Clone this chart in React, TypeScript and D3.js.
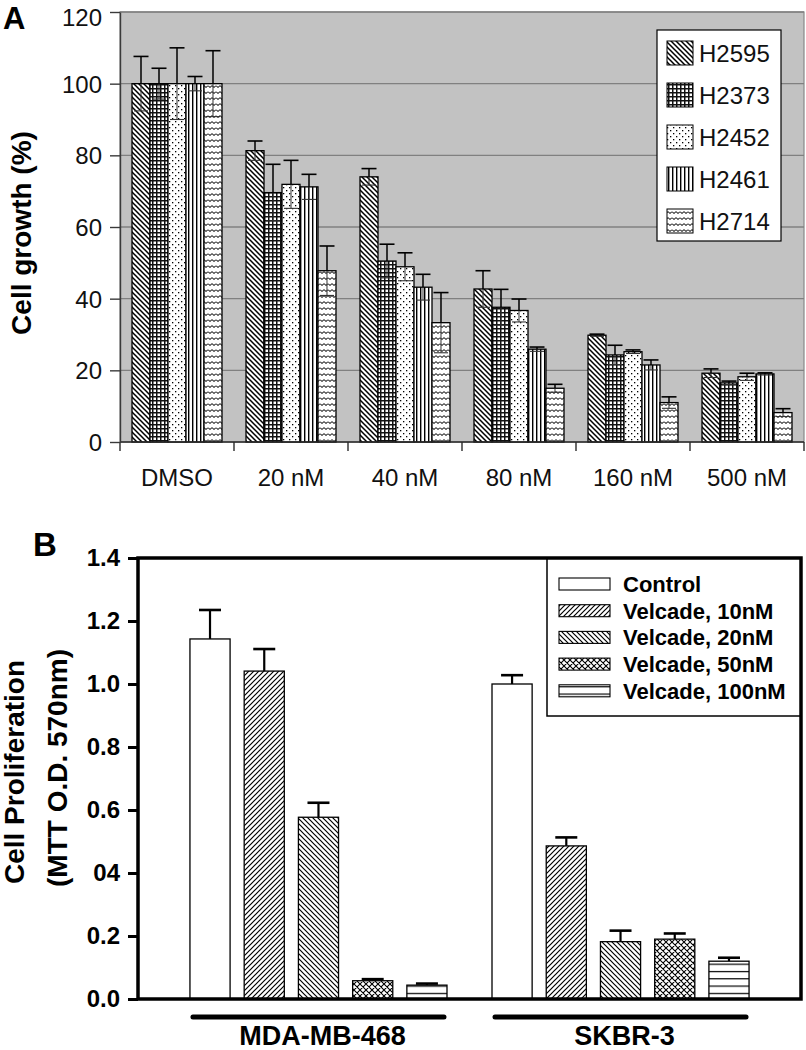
import React, { useEffect, useRef } from 'react';
import * as d3 from 'd3';

const FONT = "Arial, 'Liberation Sans', Helvetica, sans-serif";

// ---- panel A data: cell growth (%) ----
const doses = ['DMSO', '20 nM', '40 nM', '80 nM', '160 nM', '500 nM'];
const cellLines = ['H2595', 'H2373', 'H2452', 'H2461', 'H2714'];
const growthH2595 = [100, 81.3, 74, 42.7, 29.8, 19.2];
const growthH2373 = [100, 69.6, 50.5, 37.6, 24.3, 16.5];
const growthH2452 = [100, 71.9, 48.9, 36.7, 25.2, 18.2];
const growthH2461 = [100, 71.2, 43.2, 25.9, 21.5, 19];
const growthH2714 = [100, 47.8, 33.3, 15, 11, 8.2];
const errH2595 = [7.6, 2.7, 2.3, 5.1, 0.3, 1.2];
const errH2373 = [4.3, 7.9, 4.7, 5, 2.7, 0.5];
const errH2452 = [10, 6.7, 3.9, 3.2, 0.5, 1];
const errH2461 = [2, 3.5, 3.6, 0.6, 1.4, 0.3];
const errH2714 = [9.2, 6.9, 8.4, 1.1, 1.6, 1.1];
const growth = [growthH2595, growthH2373, growthH2452, growthH2461, growthH2714];
const growthErr = [errH2595, errH2373, errH2452, errH2461, errH2714];
const ticksA = [0, 20, 40, 60, 80, 100, 120];

// ---- panel B data: MTT proliferation ----
const cellsB = ['MDA-MB-468', 'SKBR-3'];
const treatments = ['Control', 'Velcade, 10nM', 'Velcade, 20nM', 'Velcade, 50nM', 'Velcade, 100nM'];
const odControl = [1.143, 1.0];
const od10 = [1.041, 0.486];
const od20 = [0.577, 0.182];
const od50 = [0.058, 0.19];
const od100 = [0.044, 0.12];
const errControl = [0.092, 0.028];
const err10 = [0.07, 0.027];
const err20 = [0.046, 0.035];
const err50 = [0.005, 0.018];
const err100 = [0.005, 0.011];
const od = [odControl, od10, od20, od50, od100];
const odErr = [errControl, err10, err20, err50, err100];
const ticksB = [0, 0.2, 0.4, 0.6, 0.8, 1.0, 1.2, 1.4];
const tickLabelsB = ['0.0', '0.2', '04', '0.6', '0.8', '1.0', '1.2', '1.4'];

const A = { l: 120, r: 804, t: 12, b: 442 };
const B = { l: 138, r: 801, t: 558, b: 999 };

const App: React.FC = () => {
  const axA = useRef<SVGGElement>(null);
  const axB = useRef<SVGGElement>(null);

  const yA = d3.scaleLinear().domain([0, 120]).range([A.b, A.t]);
  const xA = d3.scaleBand().domain(doses).range([A.l, A.r]);
  const xA1 = d3.scaleBand().domain(cellLines).range([0, xA.bandwidth()]).paddingOuter(0.667);

  const yB = d3.scaleLinear().domain([0, 1.4]).range([B.b, B.t]);
  const xB = d3.scaleBand().domain(cellsB).range([B.l, B.r]).paddingInner(0.149).paddingOuter(0.172);
  const xB1 = d3.scaleBand().domain(treatments).range([0, xB.bandwidth()]).paddingInner(0.26);

  useEffect(() => {
    const ga = d3.select(axA.current);
    ga.selectAll('*').remove();
    ga.call(d3.axisLeft(yA).tickValues(ticksA).tickSize(10).tickSizeOuter(0).tickPadding(8) as any);
    ga.select('.domain').attr('stroke', '#3a3a3a').attr('stroke-width', 1.4);
    ga.selectAll('.tick line').attr('stroke', '#3a3a3a').attr('stroke-width', 1.4);
    ga.selectAll('.tick text')
      .attr('font-size', 24)
      .attr('font-family', FONT)
      .attr('fill', '#111')
      .attr('dy', (d: any) => (d === 120 ? '0.55em' : '0.36em'));

    const gb = d3.select(axB.current);
    gb.selectAll('*').remove();
    gb.call(
      d3.axisLeft(yB).tickValues(ticksB).tickFormat((_d, i) => tickLabelsB[i]).tickSize(10).tickSizeOuter(0).tickPadding(8) as any
    );
    gb.select('.domain').remove();
    gb.selectAll('.tick line').attr('stroke', '#000').attr('stroke-width', 3);
    gb.selectAll('.tick text').attr('font-size', 24).attr('font-weight', 'bold').attr('font-family', FONT).attr('fill', '#000');
  }, []);

  const boundaries = [...doses.map((d) => xA(d)!), A.r];

  return (
    <svg width={806} height={1050} style={{ position: 'absolute', left: 0, top: 0, background: '#fff' }} fontFamily={FONT}>
      <defs>
        <pattern id="pA0" patternUnits="userSpaceOnUse" width="5" height="5">
          <rect width="5" height="5" fill="#fff" />
          <path d="M0,0L5,5M-1,4L1,6M4,-1L6,1" stroke="#000" strokeWidth="1.5" />
        </pattern>
        <pattern id="pA1" patternUnits="userSpaceOnUse" width="4" height="4">
          <rect width="4" height="4" fill="#fff" />
          <rect width="4" height="1.5" fill="#111" />
          <rect width="1.5" height="4" fill="#111" />
        </pattern>
        <pattern id="pA2" patternUnits="userSpaceOnUse" width="6" height="6">
          <rect width="6" height="6" fill="#fff" />
          <rect x="1" y="1" width="1.3" height="1.3" fill="#000" />
          <rect x="4" y="4" width="1.3" height="1.3" fill="#000" />
        </pattern>
        <pattern id="pA3" patternUnits="userSpaceOnUse" width="4" height="4">
          <rect width="4" height="4" fill="#fff" />
          <rect width="1.4" height="4" fill="#000" />
        </pattern>
        <pattern id="pA4" patternUnits="userSpaceOnUse" width="8" height="6">
          <rect width="8" height="6" fill="#fff" />
          <path d="M0,1.5Q2,5 4,1.5Q6,5 8,1.5" fill="none" stroke="#000" strokeWidth="1" />
        </pattern>

        <pattern id="pB0" patternUnits="userSpaceOnUse" width="5" height="5">
          <rect width="5" height="5" fill="#fff" />
        </pattern>
        <pattern id="pB1" patternUnits="userSpaceOnUse" width="5" height="5">
          <rect width="5" height="5" fill="#fff" />
          <path d="M0,5L5,0M-1,1L1,-1M4,6L6,4" stroke="#000" strokeWidth="1.2" />
        </pattern>
        <pattern id="pB2" patternUnits="userSpaceOnUse" width="5" height="5">
          <rect width="5" height="5" fill="#fff" />
          <path d="M0,0L5,5M-1,4L1,6M4,-1L6,1" stroke="#000" strokeWidth="1.2" />
        </pattern>
        <pattern id="pB3" patternUnits="userSpaceOnUse" width="6" height="6">
          <rect width="6" height="6" fill="#fff" />
          <path d="M0,0L6,6M-1,5L1,7M5,-1L7,1M0,6L6,0M-1,1L1,-1M5,7L7,5" stroke="#000" strokeWidth="1.1" />
        </pattern>
        <pattern id="pB4" patternUnits="userSpaceOnUse" width="4" height="7.3">
          <rect width="4" height="7.3" fill="#fff" />
          <rect y="0" width="4" height="1.2" fill="#000" />
        </pattern>
      </defs>

      {/* ============ Panel A ============ */}
      <text x={3} y={29} fontSize={31} fontWeight="bold">A</text>
      <rect x={A.l} y={A.t} width={A.r - A.l} height={A.b - A.t} fill="#c2c2c2" stroke="#888" strokeWidth={1.2} />
      {ticksA.slice(1).map((t) => (
        <line key={t} x1={A.l} x2={A.r} y1={yA(t)} y2={yA(t)} stroke="#808080" strokeWidth={1.3} />
      ))}

      {cellLines.map((ln, li) =>
        doses.map((ds, di) => {
          const x = xA(ds)! + xA1(ln)!;
          const w = xA1.bandwidth();
          const v = growth[li][di];
          const e = growthErr[li][di];
          const cx = x + w / 2;
          return (
            <g key={ln + ds}>
              <rect x={x} y={yA(v)} width={w} height={yA(0) - yA(v)} fill={`url(#pA${li})`} stroke="#000" strokeWidth={1.3} />
              <line x1={cx} x2={cx} y1={yA(v)} y2={yA(v - e)} stroke="#333" strokeWidth={1} />
              <line x1={cx - 7} x2={cx + 7} y1={yA(v - e)} y2={yA(v - e)} stroke="#333" strokeWidth={1.1} />
              <line x1={cx} x2={cx} y1={yA(v)} y2={yA(v + e)} stroke="#000" strokeWidth={1.5} />
              <line x1={cx - 7.5} x2={cx + 7.5} y1={yA(v + e)} y2={yA(v + e)} stroke="#000" strokeWidth={1.6} />
            </g>
          );
        })
      )}

      <line x1={A.l} x2={A.r} y1={A.b} y2={A.b} stroke="#2a2a2a" strokeWidth={1.6} />
      {boundaries.map((bx, i) => (
        <line key={i} x1={bx} x2={bx} y1={A.b} y2={A.b + 9} stroke="#2a2a2a" strokeWidth={1.4} />
      ))}
      {doses.map((d) => (
        <text key={d} x={xA(d)! + xA.bandwidth() / 2} y={486} textAnchor="middle" fontSize={24} fill="#111">
          {d}
        </text>
      ))}
      <g ref={axA} transform={`translate(${A.l},0)`} />
      <text transform="translate(31,233) rotate(-90)" textAnchor="middle" fontSize={28} fontWeight="bold">
        Cell growth (%)
      </text>

      {/* legend A */}
      <rect x={657} y={30} width={124} height={211} fill="#fff" stroke="#000" strokeWidth={1.2} />
      {cellLines.map((ln, i) => {
        const cy = 53 + i * 42;
        return (
          <g key={ln}>
            <rect x={667} y={cy - 12} width={26} height={24} fill={`url(#pA${i})`} stroke="#000" strokeWidth={1} />
            <text x={699} y={cy + 9} fontSize={24} fill="#111">{ln}</text>
          </g>
        );
      })}

      {/* ============ Panel B ============ */}
      <text x={33} y={556} fontSize={33} fontWeight="bold">B</text>

      {treatments.map((tr, ti) =>
        cellsB.map((cl, ci) => {
          const x = xB(cl)! + xB1(tr)!;
          const w = xB1.bandwidth();
          const v = od[ti][ci];
          const e = odErr[ti][ci];
          const cx = x + w / 2;
          return (
            <g key={tr + cl}>
              <line x1={cx} x2={cx} y1={yB(v)} y2={yB(v + e)} stroke="#000" strokeWidth={2.2} />
              <line x1={cx - 11} x2={cx + 11} y1={yB(v + e)} y2={yB(v + e)} stroke="#000" strokeWidth={2.6} />
              <rect x={x} y={yB(v)} width={w} height={yB(0) - yB(v)} fill={`url(#pB${ti})`} stroke="#000" strokeWidth={1.3} />
            </g>
          );
        })
      )}

      {/* legend B */}
      <rect x={547} y={B.t} width={B.r - 547} height={158} fill="#fff" stroke="#000" strokeWidth={1.5} />
      {treatments.map((tr, i) => {
        const cy = 584 + i * 26.7;
        return (
          <g key={tr}>
            <rect x={559} y={cy - 6} width={51} height={12} fill={`url(#pB${i})`} stroke="#000" strokeWidth={1.1} />
            <text x={623} y={cy + 8} fontSize={22} fontWeight="bold">{tr}</text>
          </g>
        );
      })}

      <rect x={B.l} y={B.t} width={B.r - B.l} height={B.b - B.t} fill="none" stroke="#000" strokeWidth={3.5} />
      <g ref={axB} transform={`translate(${B.l},0)`} />

      {cellsB.map((cl) => {
        const x0 = xB(cl)!;
        const x1 = x0 + xB.bandwidth();
        return (
          <g key={cl}>
            <line x1={x0 + 3} x2={x1 - 3} y1={1017} y2={1017} stroke="#000" strokeWidth={5} strokeLinecap="round" />
            <text x={(x0 + x1) / 2 + 4} y={1045} textAnchor="middle" fontSize={27} fontWeight="bold">
              {cl}
            </text>
          </g>
        );
      })}

      <text textAnchor="middle" fontSize={28} fontWeight="bold" transform="translate(24,772) rotate(-90)">
        Cell Proliferation
      </text>
      <text textAnchor="middle" fontSize={28} fontWeight="bold" transform="translate(67,768) rotate(-90)">
        (MTT O.D. 570nm)
      </text>
    </svg>
  );
};

export default App;
